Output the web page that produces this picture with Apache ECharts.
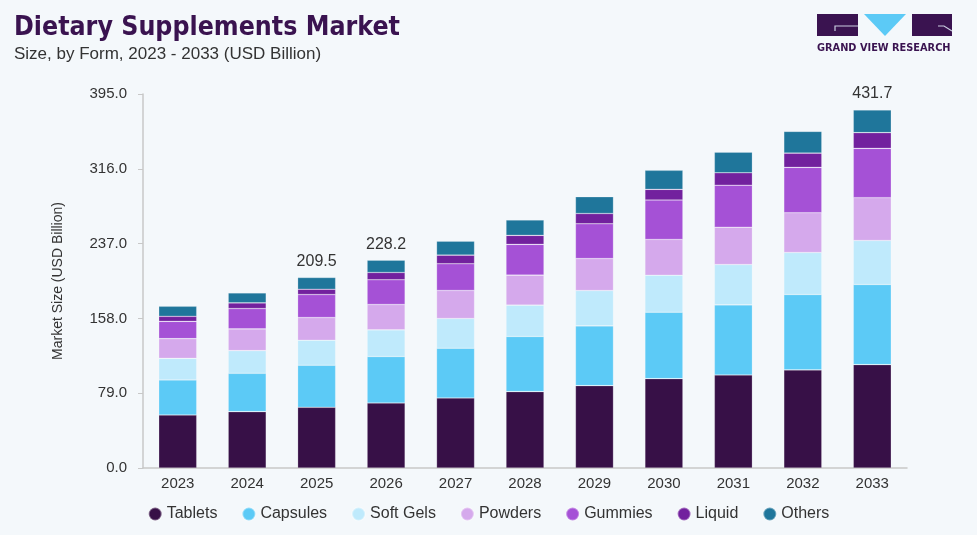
<!DOCTYPE html>
<html>
<head>
<meta charset="utf-8">
<script src="https://cdn.jsdelivr.net/npm/echarts@6/dist/echarts.min.js"></script>
<style>
  html, body { margin: 0; padding: 0; background: #f4f8fb; }
  #chart { width: 977px; height: 535px; }
</style>
</head>
<body>
<div id="chart"></div>
<script>
// data
const years = ['2023', '2024', '2025', '2026', '2027', '2028', '2029', '2030', '2031', '2032', '2033'];
const tablets  = [56.0, 59.5, 64.1, 68.7, 74.0, 80.7, 87.0, 94.4, 98.3, 103.6, 109.2];
const capsules = [37.0, 40.5, 44.4, 49.0, 52.5, 58.2, 63.1, 70.1, 74.0, 79.6, 84.6];
const softGels = [22.8, 24.0, 26.4, 28.2, 31.4, 33.1, 37.3, 39.1, 42.6, 44.4, 46.5];
const powders  = [20.8, 22.9, 24.0, 26.8, 29.6, 31.7, 33.8, 37.8, 39.4, 42.0, 45.2];
const gummies  = [18.3, 21.5, 24.3, 26.1, 28.2, 32.5, 36.7, 41.6, 44.4, 47.9, 52.1];
const liquid   = [5.3, 6.0, 5.6, 7.7, 9.1, 9.5, 10.9, 11.3, 13.1, 15.1, 16.6];
const others   = [10.6, 10.6, 12.4, 13.0, 14.8, 16.2, 17.7, 20.1, 21.8, 22.9, 23.9];
// totals printed above some bars
const totalLabels = ['', '', '209.5', '228.2', '', '', '', '', '', '', '431.7'];
const yTicks = [0, 79, 158, 237, 316, 395];

const font = 'Liberation Sans, Arial, sans-serif';
const seriesDefs = [
    { name: 'Tablets', data: tablets, color: '#371047' },
    { name: 'Capsules', data: capsules, color: '#5ccaf6' },
    { name: 'Soft Gels', data: softGels, color: '#bfeafc' },
    { name: 'Powders', data: powders, color: '#d5a9ec' },
    { name: 'Gummies', data: gummies, color: '#a551d6' },
    { name: 'Liquid', data: liquid, color: '#72219e' },
    { name: 'Others', data: others, color: '#1f769b' }
];

const series = seriesDefs.map(function (s, i) {
    const item = {
        name: s.name,
        type: 'bar',
        stack: 'total',
        barWidth: 38,
        data: s.data,
        itemStyle: { color: s.color, borderColor: 'rgba(255,255,255,0.35)', borderWidth: 0.6 }
    };
    // last series carries the total labels
    if (i === seriesDefs.length - 1) {
        item.label = {
            show: true,
            position: 'top',
            distance: 8,
            color: '#333',
            fontFamily: font,
            fontSize: 16,
            formatter: function (p) { return totalLabels[p.dataIndex]; }
        };
    }
    return item;
});

const myChart = echarts.init(document.getElementById('chart'));
const option = {
    backgroundColor: '#f4f8fb',
    animation: false,
    color: seriesDefs.map(s => s.color),
    title: [{
        text: 'Dietary Supplements Market',
        left: 9, top: 10,
        textStyle: { fontFamily: 'DejaVu Sans Condensed, DejaVu Sans, sans-serif', fontWeight: 'bold', fontSize: 26.5, color: '#3a1350' }
    }, {
        text: 'Size, by Form, 2023 - 2033 (USD Billion)',
        left: 9, top: 41,
        textStyle: { fontFamily: font, fontWeight: 'normal', fontSize: 17, color: '#333' }
    }],
    legend: {
        bottom: 8,
        left: 'center',
        icon: 'circle',
        itemWidth: 13,
        itemHeight: 13,
        itemGap: 24,
        textStyle: { fontFamily: font, fontSize: 16, color: '#333' },
        data: seriesDefs.map(s => s.name)
    },
    grid: { left: 143, right: 70, top: 94, bottom: 67 },
    xAxis: {
        type: 'category',
        data: years,
        axisLine: { lineStyle: { color: '#c8c8c8', width: 1.5 } },
        axisTick: { show: false },
        axisLabel: { color: '#333', fontFamily: font, fontSize: 15, margin: 8 }
    },
    yAxis: {
        type: 'value',
        min: yTicks[0],
        max: yTicks[yTicks.length - 1],
        interval: yTicks[1] - yTicks[0],
        name: 'Market Size (USD Billion)',
        nameLocation: 'middle',
        nameGap: 78,
        nameTextStyle: { color: '#333', fontFamily: font, fontSize: 14 },
        axisLine: { show: true, lineStyle: { color: '#c8c8c8', width: 1.5 } },
        axisTick: { show: true, length: 5, lineStyle: { color: '#c8c8c8' } },
        splitLine: { show: false },
        axisLabel: {
            color: '#333', fontFamily: font, fontSize: 15, margin: 16,
            formatter: v => v.toFixed(1)
        }
    },
    graphic: [
        // Grand View Research logo
        { type: 'rect', shape: { x: 817, y: 14, width: 41, height: 22 }, style: { fill: '#3a1350' } },
        { type: 'polyline', shape: { points: [[835, 31], [835, 26], [858, 26]] }, style: { stroke: '#c9cde0', lineWidth: 1.2 } },
        { type: 'polygon', shape: { points: [[864, 14], [906, 14], [885, 36]] }, style: { fill: '#5ccaf6' } },
        { type: 'rect', shape: { x: 912, y: 14, width: 40, height: 22 }, style: { fill: '#3a1350' } },
        { type: 'polyline', shape: { points: [[938, 26], [944, 26], [952, 31]] }, style: { stroke: '#c9cde0', lineWidth: 1.2 } },
        {
            type: 'text', left: 817, top: 43,
            style: { text: 'GRAND VIEW RESEARCH', fill: '#3a1350', font: 'bold 9.8px DejaVu Sans, sans-serif' }
        }
    ],
    series: series
};
myChart.setOption(option);
</script>
</body>
</html>
